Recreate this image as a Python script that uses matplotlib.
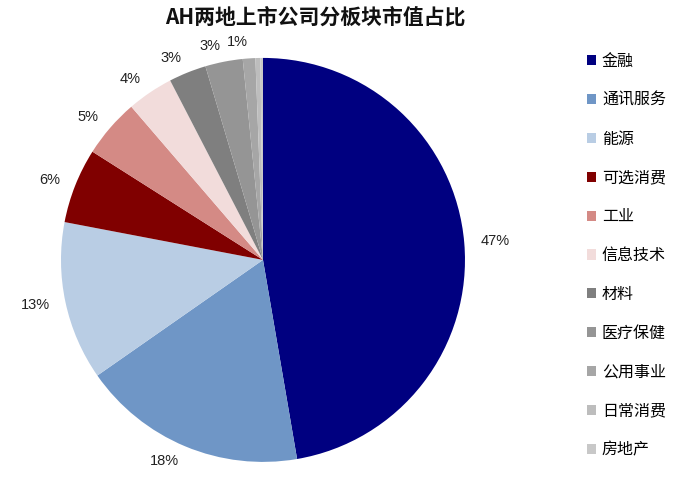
import matplotlib
matplotlib.use('Agg')
import matplotlib.pyplot as plt
from matplotlib.patches import Patch

plt.rcParams['font.family'] = ['Noto Sans CJK SC', 'DejaVu Sans']

sectors = ['金融', '通讯服务', '能源', '可选消费', '工业', '信息技术',
           '材料', '医疗保健', '公用事业', '日常消费', '房地产']
shares = [47.3, 18.0, 12.7, 6.0, 4.7, 3.7, 3.0, 3.0, 1.0, 0.4, 0.2]
pct_labels = ['47%', '18%', '13%', '6%', '5%', '4%', '3%', '3%', '1%', '', '']
colors = ['#000080', '#6f96c6', '#b9cde4', '#800000', '#d48a85', '#f2dcdb',
          '#7f7f7f', '#959595', '#a6a6a6', '#bdbdbd', '#c8c8c8']

fig = plt.figure(figsize=[7.0, 4.78], dpi=100)
# pie of radius ~202 px centred at (263, 260) px from top-left
ax = fig.add_axes([0.015, -0.072, 0.7214, 1.0565])

wedges, texts = ax.pie(shares, colors=colors, labels=pct_labels, startangle=90,
                       counterclock=False, labeldistance=1.08,
                       textprops={'fontsize': 10.5, 'color': '#222222',
                                  'family': ['Liberation Sans', 'DejaVu Sans']})
ax.set_xlim(-1.25, 1.25)
ax.set_ylim(-1.25, 1.25)
ax.set_aspect('equal')

fig.text(0.45, 0.964, 'AH两地上市公司分板块市值占比', ha='center', va='center',
         fontsize=15, fontweight='bold', color='#111111')

handles = [Patch(facecolor=c, edgecolor='none') for c in colors]
fig.legend(handles, sectors, loc='upper left', bbox_to_anchor=(0.829, 0.903),
           frameon=False, fontsize=11.5, handlelength=0.6, handleheight=0.6,
           handletextpad=0.35, labelspacing=1.37, borderaxespad=0)

fig.savefig('out.png', dpi=100)
